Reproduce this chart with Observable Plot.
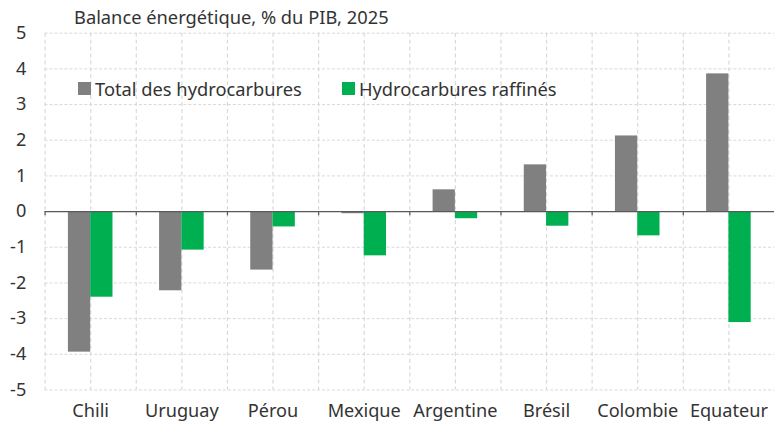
<!DOCTYPE html>
<html>
<head>
<meta charset="utf-8">
<script src="https://cdn.jsdelivr.net/npm/d3@7"></script>
<script src="https://cdn.jsdelivr.net/npm/@observablehq/plot@0.6"></script>
<style>
  html, body { margin: 0; padding: 0; background: #fff; }
  #wrap { position: relative; width: 774px; height: 426px; overflow: hidden; font-family: "Noto Sans", sans-serif; color: #333; }
  #title { position: absolute; left: 74px; top: 4px; font-size: 18.3px; color: #333; white-space: nowrap; }
  .leg { position: absolute; top: 76px; font-size: 18.3px; color: #333; white-space: nowrap; display: flex; align-items: center; }
  .sw { display: inline-block; width: 13px; height: 13px; margin-right: 4px; }
  #chart { position: absolute; left: 0; top: 0; }
</style>
</head>
<body>
<div id="wrap">
  <div id="chart"></div>
  <div id="title">Balance énergétique, % du PIB, 2025</div>
  <div id="legend"></div>
</div>
<script>
const countries = ["Chili", "Uruguay", "Pérou", "Mexique", "Argentine", "Brésil", "Colombie", "Equateur"];
const totalHydrocarbures = [-3.94, -2.22, -1.64, -0.06, 0.61, 1.31, 2.12, 3.86];
const hydrocarburesRaffines = [-2.40, -1.08, -0.43, -1.24, -0.20, -0.41, -0.68, -3.11];
const seriesNames = ["Total des hydrocarbures", "Hydrocarbures raffinés"];
const seriesColors = ["#808080", "#00B050"];
const yTicks = [-5, -4, -3, -2, -1, 0, 1, 2, 3, 4, 5];

const totalData = countries.map((c, i) => ({country: c, value: totalHydrocarbures[i]}));
const raffData = countries.map((c, i) => ({country: c, value: hydrocarburesRaffines[i]}));

const half = 46;
const chart = Plot.plot({
  width: 781,
  height: 426,
  marginTop: 33,
  marginBottom: 33,
  marginLeft: 45,
  marginRight: 0,
  style: {fontFamily: "Noto Sans, sans-serif", fontSize: "18.3px", color: "#333", background: "transparent"},
  x: {type: "band", domain: countries, padding: 0, label: null},
  y: {domain: [-5, 5], label: null},
  marks: [
    Plot.ruleY(yTicks, {stroke: "#d9d9d9", strokeDasharray: "3,2", strokeWidth: 1}),
    Plot.ruleX(countries, {x: d => d, stroke: "#d9d9d9", strokeDasharray: "4,3", strokeWidth: 1.2}),
    Plot.ruleX(countries, {x: d => d, dx: -half, stroke: "#d9d9d9", strokeDasharray: "4,3", strokeWidth: 1.2}),
    Plot.barY(totalData, {x: "country", y: "value", fill: seriesColors[0], insetLeft: 23.5, insetRight: half}),
    Plot.barY(raffData, {x: "country", y: "value", fill: seriesColors[1], insetLeft: half, insetRight: 23.5}),
    Plot.ruleY([0], {stroke: "#595959", strokeWidth: 1.2}),
    Plot.ruleX(countries, {x: d => d, dx: -half, y1: 0, y2: -0.12, stroke: "#595959", strokeWidth: 1.2}),
    Plot.axisY(yTicks, {tickSize: 0, tickPadding: 19, tickFormat: d => String(d), fontSize: 18.3, fill: "#333"}),
    Plot.axisX(countries, {tickSize: 0, tickPadding: 14, fontSize: 18.3, fill: "#333"})
  ]
});
document.getElementById("chart").appendChild(chart);

const legend = document.getElementById("legend");
const legLeft = [78, 342];
seriesNames.forEach((name, i) => {
  const d = document.createElement("div");
  d.className = "leg";
  d.style.left = legLeft[i] + "px";
  d.innerHTML = `<span class="sw" style="background:${seriesColors[i]}"></span>${name}`;
  legend.appendChild(d);
});
</script>
</body>
</html>
